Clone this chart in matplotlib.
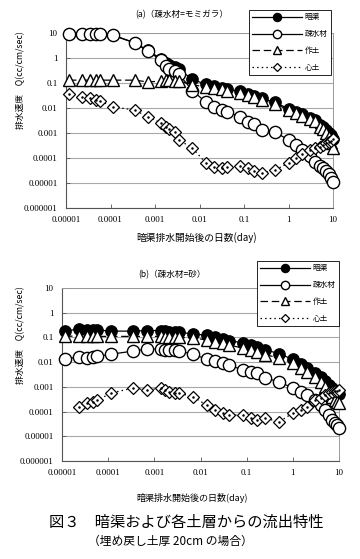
import numpy as np
import matplotlib
matplotlib.use("Agg")
import matplotlib.pyplot as plt
from matplotlib.lines import Line2D

JP = ['Noto Sans CJK JP', 'DejaVu Sans']
NUM = ['Liberation Serif', 'DejaVu Serif']

# ---------------- data ----------------
# elapsed time after drain start (day): 1s,2s,3s,4s,5s,10s,30s,1min,2min,2.5min,3min,4min,5min,
# 10min,20min,30min,45min,1h,2h,3h,4h,6h,12h,1d,1.5d,2d,3d,...,10d
days = [1.16e-5, 2.31e-5, 3.47e-5, 4.63e-5, 5.79e-5, 1.16e-4, 3.47e-4, 6.94e-4,
        1.39e-3, 1.74e-3, 2.08e-3, 2.78e-3, 3.47e-3, 6.94e-3, 1.39e-2, 2.08e-2,
        3.13e-2, 4.17e-2, 8.33e-2, 0.125, 0.167, 0.25, 0.5, 1.0, 1.5, 2, 3, 4, 5,
        6, 7, 8, 9, 10]

# (a) filter material = rice husk
a_drain = [9.1, 9.1, 9.1, 9.1, 9.1, 8.1, 4.1, 2.0, 0.92, 0.63, 0.51, 0.42, 0.35,
           0.14, 0.088, 0.078, 0.064, 0.057, 0.046, 0.036, 0.03, 0.024, 0.017, 0.0092,
           0.0068, 0.0055, 0.0041, 0.0033, 0.0021, 0.0017, 0.0013, 0.001, 8e-4, 6e-4]
a_filter = [9.0, 9.0, 9.0, 9.0, 9.0, 8.0, 4.0, 1.9, 0.8, 0.5, 0.38, 0.3, 0.22,
            0.05, 0.017, 0.011, 0.0083, 0.007, 0.0044, 0.0028, 0.0022, 0.0013, 0.0011, 5.2e-4,
            3.3e-4, 2.1e-4, 1.2e-4, 7e-5, 5e-5, 4e-5, 3e-5, 2.3e-5, 1.6e-5, 1.1e-5]
a_topsoil = [0.13, 0.13, 0.13, 0.13, 0.13, 0.13, 0.13, 0.11, 0.12, 0.13, 0.13, 0.12, 0.12,
             0.085, 0.069, 0.065, 0.055, 0.05, 0.04, 0.032, 0.027, 0.021, 0.015, 0.0083,
             0.0062, 0.005, 0.0037, 0.003, 0.0017, 0.0014, 0.001, 7e-4, 4e-4, 2.5e-4]
a_subsoil = [0.036, 0.028, 0.025, 0.021, 0.019, 0.011, 0.0083, 0.0044, 0.0025, 0.0018,
             0.0015, 0.0011, 5.2e-4, 2.5e-4, 6.3e-5, 4.4e-5, 4e-5, 4.4e-5, 5e-5, 4e-5,
             3e-5, 2.5e-5, 3.3e-5, 6.3e-5, 1e-4, 1.4e-4, 2e-4, 2.5e-4, 2.8e-4, 3.3e-4,
             4e-4, 4.4e-4, 5e-4, 6e-4]

# (b) filter material = sand
b_drain = [0.18, 0.22, 0.2, 0.2, 0.2, 0.18, 0.18, 0.19, 0.19, 0.18, 0.17, 0.17, 0.16,
           0.14, 0.12, 0.1, 0.09, 0.075, 0.06, 0.05, 0.042, 0.032, 0.022, 0.013,
           0.0085, 0.006, 0.0038, 0.0025, 0.0017, 0.0012, 9e-4, 7e-4, 6e-4, 5e-4]
b_filter = [0.0135, 0.016, 0.015, 0.016, 0.017, 0.021, 0.028, 0.034, 0.034, 0.031, 0.031,
            0.03, 0.028, 0.021, 0.013, 0.011, 0.0093, 0.0076, 0.0048, 0.004, 0.0036,
            0.0023, 0.0016, 9e-4, 6e-4, 4.7e-4, 2.9e-4, 1.8e-4, 1.15e-4, 7.2e-5, 4.6e-5,
            3.4e-5, 2.8e-5, 2.1e-5]
b_topsoil = [0.11, 0.115, 0.11, 0.11, 0.11, 0.11, 0.11, 0.11, 0.11, 0.105, 0.105, 0.105,
             0.1, 0.095, 0.079, 0.065, 0.059, 0.049, 0.037, 0.031, 0.026, 0.02, 0.015,
             0.0092, 0.006, 0.004, 0.0025, 0.0016, 0.001, 6.2e-4, 3.9e-4, 3e-4, 2.4e-4, 2.2e-4]
b_subsoil = [np.nan, 1.5e-4, 2.2e-4, 2.4e-4, 2.9e-4, 5.6e-4, 9e-4, 7.4e-4, 9e-4, 7.4e-4,
             6.2e-4, 5.6e-4, 5.6e-4, 3.9e-4, 1.8e-4, 1.15e-4, 8.7e-5, 7.2e-5, 7.2e-5,
             5.5e-5, 4.6e-5, 5.5e-5, 3.8e-5, 8.7e-5, 1.2e-4, 1.5e-4, 2.9e-4, 3.5e-4,
             4.7e-4, 5.6e-4, 6e-4, 6.5e-4, 7e-4, 7.5e-4]

labels = ['暗渠', '疎水材', '作土', '心土']
xtick_vals = [1e-5, 1e-4, 1e-3, 1e-2, 1e-1, 1, 10]
xtick_labels = ['0.00001', '0.0001', '0.001', '0.01', '0.1', '1', '10']
ytick_vals = [1e-6, 1e-5, 1e-4, 1e-3, 1e-2, 1e-1, 1, 10]
ytick_labels = ['0.000001', '0.00001', '0.0001', '0.001', '0.01', '0.1', '1', '10']

# ---------------- styles ----------------
styles = [
    dict(color='black', lw=0.9, ls='-', marker='o', ms=8.3, mfc='black', mec='black', mew=0.8),
    dict(color='black', lw=0.9, ls='-', marker='o', ms=8.8, mfc='white', mec='black', mew=1.0),
    dict(color='black', lw=0.9, ls=(0, (6, 3)), marker='^', ms=9.3, mfc='white', mec='black', mew=1.0),
    dict(color='black', lw=0.9, ls=(0, (1.2, 2.5)), marker='D', ms=6, mfc='white', mec='black', mew=0.9),
]
leg_ms = [6, 6, 6, 4.5]

W, H = 360, 559
fig = plt.figure(figsize=(W / 100, H / 100), dpi=100)


def make_panel(rect, series, title, title_xy, legend_xy, ylabel_xy, xlabel_xy, xlabel_fs):
    ax = fig.add_axes(rect)
    ax.set_xscale('log')
    ax.set_yscale('log')
    ax.set_xlim(1e-5, 10)
    ax.set_ylim(1e-6, 10)
    for i, (ys, st) in enumerate(zip(series, styles)):
        ax.plot(days, ys, clip_on=False, zorder=3 + i, **st)
        if i == 3:
            ax.plot(days, ys, ls='none', marker='.', ms=1.6, color='black',
                    clip_on=False, zorder=3 + i)
    ax.set_xticks(xtick_vals)
    ax.set_xticklabels(xtick_labels, family=NUM, fontsize=6.5)
    ax.set_yticks(ytick_vals)
    ax.set_yticklabels(ytick_labels, family=NUM, fontsize=6.5)
    ax.minorticks_off()
    ax.tick_params(axis='both', direction='in', length=3, width=0.6, color='#555555', pad=6)
    ax.grid(axis='y', color='#a8a8a8', lw=0.8)
    ax.set_axisbelow(True)
    for s in ['left', 'bottom']:
        ax.spines[s].set_color('#555555')
        ax.spines[s].set_linewidth(0.8)
    for s in ['right', 'top']:
        ax.spines[s].set_color('#999999')
        ax.spines[s].set_linewidth(0.7)
        ax.spines[s].set_linestyle((0, (1, 1)))
    fig.text(title_xy[0] / W, 1 - title_xy[1] / H, title, family=JP, fontsize=6.2,
             ha='center', va='center')
    fig.text(ylabel_xy[0] / W, 1 - ylabel_xy[1] / H, '排水速度　Q(cc/cm/sec)', family=JP,
             fontsize=6.3, rotation=90, ha='center', va='center')
    fig.text(xlabel_xy[0] / W, 1 - xlabel_xy[1] / H, '暗渠排水開始後の日数(day)', family=JP,
             fontsize=xlabel_fs, ha='center', va='center')
    handles = [Line2D([], [], **{**st, 'ms': m}) for st, m in zip(styles, leg_ms)]
    leg = fig.legend(handles, labels, loc='upper left',
                     bbox_to_anchor=(legend_xy[0] / W, 1 - legend_xy[1] / H),
                     bbox_transform=fig.transFigure, borderaxespad=0,
                     prop={'family': JP, 'size': 5.5}, handlelength=6.5,
                     handletextpad=0.3, labelspacing=1.15, borderpad=0.45,
                     fancybox=False, framealpha=1, edgecolor='black')
    leg.get_frame().set_linewidth(0.6)
    leg.set_zorder(10)
    return ax


make_panel([66 / W, 1 - 208 / H, 267 / W, 175 / H],
           [a_drain, a_filter, a_topsoil, a_subsoil],
           '(a)（疎水材=モミガラ）', (182, 15), (249, 10), (21, 80), (197, 238), 7)

make_panel([62 / W, 1 - 461 / H, 277 / W, 173 / H],
           [b_drain, b_filter, b_topsoil, b_subsoil],
           '(b)（疎水材=砂）', (172, 275), (257, 261), (21, 335), (192, 498), 6.5)

fig.text(186 / W, 1 - 522 / H, '図３　暗渠および各土層からの流出特性', family=JP,
         fontsize=11, ha='center', va='center')
fig.text(170 / W, 1 - 541 / H, '（埋め戻し土厚 20cm の場合）', family=JP,
         fontsize=8.5, ha='center', va='center')

fig.savefig('out.png', dpi=100)
